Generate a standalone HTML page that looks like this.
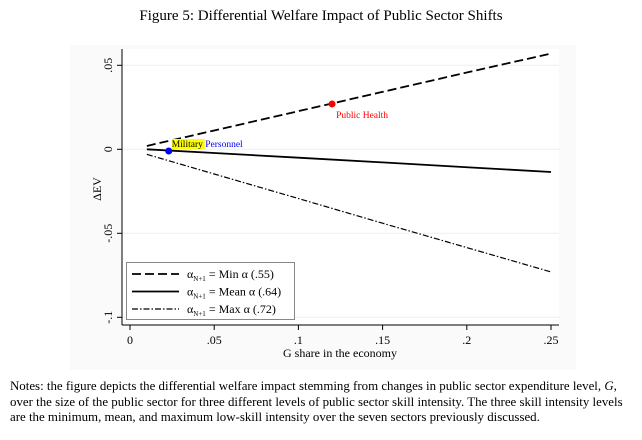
<!DOCTYPE html>
<html><head><meta charset="utf-8"><style>
body{margin:0;width:642px;height:440px;background:#fff;font-family:"Liberation Serif",serif;overflow:hidden;position:relative}
#title{position:absolute;top:8px;left:0;width:642px;text-align:center;font-size:15px}
#notes{position:absolute;left:10px;top:379px;width:630px;font-size:12.9px;line-height:15.5px}
</style></head><body>
<div id="title">Figure 5: Differential Welfare Impact of Public Sector Shifts</div>
<svg id="chart" width="642" height="375" style="position:absolute;left:0;top:0" font-family="Liberation Serif, serif">
<rect x="70" y="45" width="506" height="325" fill="#fafafa"/>
<rect x="122" y="49" width="437" height="276" fill="#fff"/>
<g id="grid"></g><g id="axes"></g><g id="series"></g><g id="legend"></g>
</svg>
<div id="notes">Notes: the figure depicts the differential welfare impact stemming from changes in public sector expenditure level, <i>G</i>, over the size of the public sector for three different levels of public sector skill intensity. The three skill intensity levels are the minimum, mean, and maximum low-skill intensity over the seven sectors previously discussed.</div>
<script>
const xVals=[0.01,0.05,0.1,0.15,0.2,0.25];
const minSeries=[0.002,0.0112,0.0227,0.0342,0.0457,0.057];
const meanSeries=[0,-0.0022,-0.005,-0.0078,-0.0107,-0.0135];
const maxSeries=[-0.003,-0.0147,-0.0293,-0.044,-0.0585,-0.073];
const xTicks=[0,0.05,0.1,0.15,0.2,0.25];
const xTickLabels=["0",".05",".1",".15",".2",".25"];
const yTicks=[0.05,0,-0.05,-0.1];
const yTickLabels=[".05","0","-.05","-.1"];
const markerNames=["Public Health","Military Personnel"];
const markerX=[0.12,0.023];
const markerY=[0.027,-0.001];
const NS="http://www.w3.org/2000/svg";
const X=v=>130+v*1684, Y=v=>149.3-v*1680;
function mk(p,t,a){const e=document.createElementNS(NS,t);for(const k in a)e.setAttribute(k,a[k]);p.appendChild(e);return e;}
const grid=document.getElementById('grid'),axes=document.getElementById('axes'),ser=document.getElementById('series'),leg=document.getElementById('legend');
yTicks.forEach((v,i)=>{
 const g=mk(grid,'line',{x1:122,x2:559,y1:Y(v),y2:Y(v),stroke:'#eaf0f0','stroke-width':1});
 
 
 const t=mk(axes,'line',{x1:117,x2:122,y1:Y(v),y2:Y(v),stroke:'#000'});
 
 
 const l=mk(axes,'text',{x:0,y:0,'font-size':12,'text-anchor':'middle',transform:`translate(112,${Y(v)}) rotate(-90)`});
 l.textContent=yTickLabels[i];
 
 
});
xTicks.forEach((v,i)=>{
 const t=mk(axes,'line',{x1:X(v),x2:X(v),y1:325,y2:330,stroke:'#000'});
 
 
 const l=mk(axes,'text',{x:X(v),y:344,'font-size':12,'text-anchor':'middle'});
 l.textContent=xTickLabels[i];
 
 
});
let a=mk(axes,'line',{x1:122,x2:122,y1:49,y2:325,stroke:'#000'});

a=mk(axes,'line',{x1:122,x2:559,y1:325,y2:325,stroke:'#000'});

let t=mk(axes,'text',{x:340,y:357,'font-size':12,'text-anchor':'middle'});t.textContent='G share in the economy';

t=mk(axes,'text',{x:0,y:0,'font-size':12,'text-anchor':'middle',transform:'translate(101,189) rotate(-90)'});t.textContent='ΔEV';

const styles=[[minSeries,'9,4','series-min-alpha'],[meanSeries,'none','series-mean-alpha'],[maxSeries,'6,2,1.5,2','series-max-alpha']];
styles.forEach(([d,dash,name])=>{
 const p=mk(ser,'polyline',{points:xVals.map((x,i)=>X(x)+','+Y(d[i])).join(' '),fill:'none',stroke:'#000','stroke-width':name==='series-max-alpha'?1.2:1.8,'stroke-dasharray':dash});
 
 
});
const cols=['#f00','#00f'];
markerNames.forEach((n,i)=>{
 const c=mk(ser,'circle',{cx:X(markerX[i]),cy:Y(markerY[i]),r:3.5,fill:cols[i]});
 
 
});
let tl=mk(ser,'text',{x:X(markerX[0])+4,y:Y(markerY[0])+14,'font-size':9.5,fill:'#f00'});tl.textContent=markerNames[0];

let hl=mk(ser,'rect',{x:X(markerX[1])+3,y:Y(markerY[1])-12,width:33,height:10,fill:'#ff0'});

tl=mk(ser,'text',{x:X(markerX[1])+3,y:Y(markerY[1])-4,'font-size':9.5});
tl.innerHTML='<tspan fill="#000">Military</tspan><tspan fill="#00f"> Personnel</tspan>';

let b=mk(leg,'rect',{x:126.5,y:262.5,width:168,height:57,fill:'#fff',stroke:'#888'});

const names=['Min α (.55)','Mean α (.64)','Max α (.72)'];
styles.forEach(([d,dash,name],i)=>{
 const y=274+i*17.5;
 const l=mk(leg,'line',{x1:132,x2:179,y1:y,y2:y,stroke:'#000','stroke-width':i==2?1.2:1.8,'stroke-dasharray':dash});
 
 const tx=mk(leg,'text',{x:187,y:y+4,'font-size':12});
 tx.innerHTML='α<tspan font-size="7" dy="3">N+1</tspan><tspan dy="-3"> = '+names[i]+'</tspan>';
 
});
</script>
</body></html>
